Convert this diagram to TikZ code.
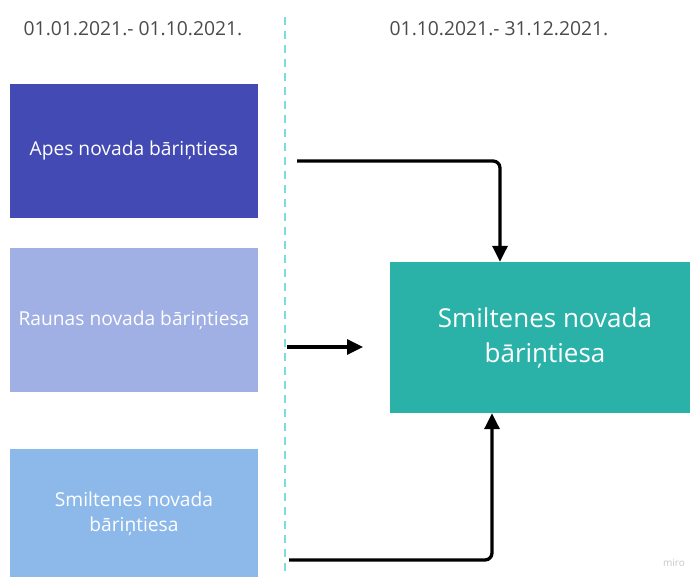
\documentclass[tikz,border=0pt]{standalone}
\usepackage{fontspec}
\setmainfont{Open Sans}
\usetikzlibrary{arrows.meta}
\definecolor{apes}{RGB}{67,74,180}
\definecolor{raunas}{RGB}{160,176,228}
\definecolor{smilt}{RGB}{141,185,234}
\definecolor{teal}{RGB}{43,178,168}
\definecolor{dashc}{RGB}{125,221,221}
\definecolor{hdr}{RGB}{75,75,75}
\tikzset{
  box/.style={rectangle, inner sep=0pt, text=white, align=center, font=\fontsize{19.2}{25}\selectfont},
  hdrtext/.style={text=hdr, font=\fontsize{19.3}{22}\selectfont, inner sep=0pt},
  arr/.style={line width=3.3pt, -{Triangle[length=16pt,width=15pt]}, rounded corners=7pt},
}
\begin{document}
\begin{tikzpicture}[x=1pt,y=-1pt]
\useasboundingbox[fill=white] (0,0) rectangle (690,577);
\node[hdrtext] (h1) at (133,29) {01.01.2021.- 01.10.2021.};
\node[hdrtext] (h2) at (499,29) {01.10.2021.- 31.12.2021.};
\coordinate (dtop) at (285,17);
\coordinate (dbot) at (285,577);
\draw[dashc, line width=2pt, dash pattern=on 8pt off 6pt] (dtop) -- (dbot);
\node[box, fill=apes, minimum width=248pt, minimum height=134pt] (apes) at (134,151) {Apes novada bāriņtiesa};
\node[box, fill=raunas, minimum width=248pt, minimum height=144pt] (raunas) at (134,320) {Raunas novada bāriņtiesa};
\node[box, fill=smilt, minimum width=248pt, minimum height=130pt] (smilt) at (134,514) {Smiltenes novada\\bāriņtiesa};
\node[box, fill=teal, minimum width=310pt, minimum height=151pt, font=\fontsize{26}{35}\selectfont] (big) at (545,337.5) {Smiltenes novada\\bāriņtiesa};
\node[text=black!22, font=\fontsize{10}{12}\selectfont, inner sep=0pt] (miro) at (674,563) {miro};
\coordinate (s1) at (297,161);
\coordinate (s2) at (287,347);
\coordinate (e2) at (363,347);
\coordinate (s3) at (289,560);
\draw[arr] (s1) -| ([xshift=-45pt]big.north);
\draw[arr] (s2) -- (e2);
\draw[arr] (s3) -| ([xshift=-53pt]big.south);
\end{tikzpicture}
\end{document}
